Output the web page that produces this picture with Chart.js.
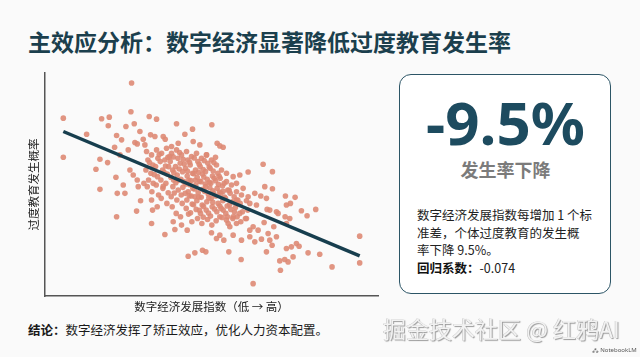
<!DOCTYPE html>
<html>
<head>
<meta charset="utf-8">
<script src="https://cdn.jsdelivr.net/npm/chart.js@4"></script>
<style>
  html, body { margin:0; padding:0; }
  body { width:640px; height:357px; background:#fafafa; position:relative; overflow:hidden;
         font-family:"Noto Sans CJK SC","Noto Sans",sans-serif; }
  .abs { position:absolute; white-space:nowrap; }
  #title { left:28px; top:26px; font-size:23px; line-height:30px; font-weight:700; color:#1b3f4d; letter-spacing:0px; }
  #chartWrap { position:absolute; left:0; top:60px; width:390px; height:260px; }
  #box { position:absolute; left:399px; top:74px; width:210px; height:218px; border:1.5px solid #2c5566;
         border-radius:12px; background:#ffffff; }
  #big { left:399px; width:213px; top:92px; text-align:center; font-family:"Noto Sans","Open Sans",sans-serif;
         font-size:60px; line-height:60px; font-weight:700; color:#1d4b5f; }
  #sub { left:399px; width:213px; top:159px; text-align:center; font-size:18px; line-height:20px; font-weight:700; color:#7b7b7b; }
  #para { left:417px; top:206px; font-size:12.5px; line-height:17.7px; color:#222; }
  #para b { font-weight:700; color:#111; }
  #concl { left:28px; top:320px; font-size:12.5px; line-height:20px; color:#1a1a1a; }
  #concl b { font-weight:700; }
  #wm { left:383px; top:313px; font-size:23px; line-height:30px; color:#f2f2f2;
        text-shadow: 1px 1px 1px #999, -0.5px -0.5px 0 #c0c0c0; }
  #nlm { left:592px; top:346px; font-family:"Noto Sans",sans-serif; font-size:6px; line-height:8px; color:#555; }
</style>
</head>
<body>
<div id="title" class="abs">主效应分析：数字经济显著降低过度教育发生率</div>
<div id="chartWrap"><canvas id="c" width="390" height="260"></canvas></div>
<div id="box"></div>
<div id="big" class="abs">-9.5%</div>
<div id="sub" class="abs">发生率下降</div>
<div id="para" class="abs">数字经济发展指数每增加 1 个标<br>准差，个体过度教育的发生概<br>率下降 9.5%。<br><b>回归系数：</b>-0.074</div>
<div id="concl" class="abs"><b>结论：</b>数字经济发挥了矫正效应，优化人力资本配置。</div>
<div id="wm" class="abs">掘金技术社区 @ 红鸦AI</div>
<div id="nlm" class="abs">⁂ NotebookLM</div>
<script>
// Axis titles
const xAxisTitle = "数字经济发展指数（低 → 高）";
const yAxisTitle = "过度教育发生概率";

// Scatter points: [digital economy index, over-education probability]
const scatterOuter = [
  [33.5,66.0],[13.0,55.5],[13.0,43.8],[20.0,50.7],[24.5,55.3],[26.8,55.8],[26.5,53.2],[33.3,57.4],
  [34.3,53.8],[38.8,56.0],[41.0,55.2],[29.0,50.3],[30.5,49.0],[31.8,53.0],[32.5,46.0],[36.0,51.5],
  [22.8,40.2],[24.0,43.2],[26.3,42.2],[24.0,34.2],[29.0,26.0],[28.8,37.8],[29.2,33.0],[31.5,33.0],
  [31.0,35.5],[35.0,27.7],[36.2,30.8],[28.4,46.8],[30.0,44.5],[34.5,48.2],[35.2,47.8],[37.0,49.2],
  [37.5,47.5],[39.2,50.5],[40.5,50.0],[43.0,50.0],[43.6,49.2],[47.0,53.8],[49.5,50.7],[51.8,52.2],
  [52.0,48.5],[57.6,53.5],[59.2,48.0],[60.0,47.2],[61.0,46.8],[45.5,47.0],[47.5,48.0],[33.0,40.0],
  [34.0,38.5],[35.2,37.0],[37.2,36.0],[35.5,35.0],[39.5,31.0],[39.8,28.0],[39.5,24.0],[41.2,29.0],
  [43.5,20.7],[46.0,24.5],[46.5,22.2],[48.5,23.5],[50.2,22.0],[50.5,14.2],[52.5,15.2],[54.8,16.0],
  [55.8,15.5],[62.7,15.5],[66.4,13.2],[70.0,6.0],[57.5,21.2],[59.0,19.5],[60.0,20.5],[61.2,19.0],
  [64.0,20.5],[66.5,19.0],[69.0,20.0],[70.5,18.5],[72.5,19.3],[74.0,15.5],[75.0,19.0],[75.7,17.5],
  [78.0,12.8],[78.2,10.0],[79.5,13.2],[80.5,12.5],[80.0,16.5],[81.5,17.0],[83.0,18.0],[83.8,17.2],
  [86.5,15.2],[90.0,14.8],[93.7,11.0],[102.0,20.2],[102.0,12.2],[82.0,14.0],[68.5,39.4],[73.0,41.7],
  [75.8,39.5],[73.5,35.0],[75.8,34.4],[79.7,32.2],[82.6,31.8],[80.0,29.5],[81.2,30.0],[84.5,27.8],
  [86.2,26.3],[88.8,28.2],[72.3,32.2],[74.0,31.5],[71.0,29.5],[74.2,28.2],[75.0,28.0],[77.0,27.5],
  [77.5,27.0],[79.6,26.0],[80.0,24.0],[81.0,25.5],[76.2,23.0],[77.0,20.0],[74.5,21.0],[73.3,24.3],
  [64.0,38.0],[66.0,38.5],[62.0,39.0],[65.0,36.0],[67.0,34.5],[70.5,33.0],[68.5,32.0],[69.0,30.0],
  [65.0,31.0],[66.0,27.0],[68.0,25.5],[70.0,23.0],[71.5,22.0],[69.0,22.0],[65.0,24.0],[63.0,23.0],
  [64.0,26.0],[61.0,28.0],[62.0,25.0],[60.0,26.0],[54.0,47.5],[58.7,43.8],[56.0,44.5]
];
const scatterCore = [
  [38.0,45.5],[38.4,43.0],[37.8,40.0],[38.6,37.0],[38.2,35.0],
  [39.5,44.5],[39.9,41.5],[39.3,39.0],[40.0,36.0],[39.6,33.5],
  [41.0,46.0],[41.4,43.5],[40.7,41.0],[41.3,38.0],[40.9,35.5],[41.6,32.5],
  [42.5,45.0],[42.1,42.5],[42.8,40.0],[42.3,37.0],[42.9,34.5],[42.4,31.5],
  [44.0,46.5],[44.4,43.8],[43.7,41.2],[44.2,38.8],[43.8,36.0],[44.5,33.2],[44.1,30.0],
  [45.5,45.0],[45.1,42.5],[45.8,40.0],[45.3,37.8],[45.9,35.0],[45.4,32.0],[45.7,29.0],
  [47.0,46.0],[47.4,43.5],[46.7,41.0],[47.2,38.5],[46.8,36.2],[47.5,34.0],[47.1,31.0],[46.9,27.0],
  [48.5,44.5],[48.1,42.0],[48.8,39.5],[48.3,37.2],[48.9,34.8],[48.4,32.5],[48.7,30.0],[48.2,26.0],
  [50.0,45.5],[50.4,43.0],[49.7,40.5],[50.2,38.2],[49.8,35.8],[50.5,33.5],[50.1,31.0],[49.9,28.5],
  [51.5,44.0],[51.1,41.5],[51.8,39.0],[51.3,36.8],[51.9,34.5],[51.4,32.2],[51.7,29.8],[51.2,27.2],[51.6,24.5],
  [53.0,45.0],[53.4,42.5],[52.7,40.0],[53.2,37.8],[52.8,35.5],[53.5,33.2],[53.1,30.8],[52.9,28.2],[53.3,25.5],
  [54.5,43.5],[54.1,41.0],[54.8,38.8],[54.3,36.5],[54.9,34.2],[54.4,31.8],[54.7,29.5],[54.2,27.0],[54.6,24.0],
  [56.0,44.5],[56.4,42.0],[55.7,39.5],[56.2,37.2],[55.8,35.0],[56.5,32.8],[56.1,30.5],[55.9,28.0],[56.3,25.2],
  [57.5,43.0],[57.1,40.5],[57.8,38.2],[57.3,36.0],[57.9,33.8],[57.4,31.5],[57.7,29.0],[57.2,26.2],[57.6,23.5],
  [59.0,41.5],[59.4,39.0],[58.7,36.8],[59.2,34.5],[58.8,32.2],[59.5,30.0],[59.1,27.5],[58.9,24.8],
  [60.5,40.0],[60.1,37.5],[60.8,35.2],[60.3,33.0],[60.9,30.8],[60.4,28.5],[60.7,25.8],
  [62.0,36.5],[62.4,34.0],[61.7,31.5],[62.2,29.2],[61.8,27.0],[62.5,24.0],
  [63.5,35.5],[63.1,33.0],[63.8,30.5],[63.3,28.2],[63.9,25.5],
  [65.0,33.5],[65.4,31.0],[64.7,28.8],[65.2,26.0],
  [66.5,32.5],[66.1,30.0],[66.8,27.5],[66.3,24.5],
  [68.0,30.8],[68.4,28.0],[67.7,25.5],
  [38.9,42.2],[40.3,38.6],[41.8,44.6],[43.2,39.4],[43.0,35.1],[44.9,44.0],[46.2,39.2],[46.3,33.1],
  [47.9,45.2],[47.8,40.3],[49.2,36.5],[49.3,41.8],[50.9,42.3],[50.7,37.0],[50.8,32.3],[52.3,43.6],
  [52.2,38.9],[52.4,34.3],[52.1,29.6],[53.8,41.7],[53.9,36.6],[53.7,31.9],[55.3,42.8],[55.2,37.9],
  [55.4,33.6],[55.1,29.1],[56.8,40.9],[56.9,36.3],[56.7,31.6],[58.2,42.2],[58.3,37.5],[58.1,33.0],
  [58.4,28.3],[59.8,38.1],[59.9,33.4],[60.0,29.2],[61.3,36.0],[61.4,31.9],[62.8,33.9],[62.9,29.6],
  [64.3,32.0],[64.4,27.4],
  [44.6,41.0],[46.0,43.9],[49.0,43.2],[50.3,39.6],[51.0,35.6],[52.6,36.9],[53.6,39.3],[55.0,40.1],
  [55.6,35.8],[57.0,34.7],[58.0,39.7],[59.6,35.7],[57.9,30.3],[56.6,27.1],[53.9,27.9],[52.5,32.0],
  [49.6,33.0],[47.6,36.9],[46.1,37.0],[43.5,43.0],[50.6,26.8],[55.0,25.9],[61.0,33.6],[62.3,26.0]
];
// Fitted regression line end points
const trendX = [13.0, 102.0];
const trendY = [51.5, 14.3];

const toXY = arr => arr.map(p => ({ x: p[0], y: p[1] }));
const allPoints = toXY(scatterOuter.concat(scatterCore));
const trendPoints = trendX.map((x, i) => ({ x: x, y: trendY[i] }));

new Chart(document.getElementById('c'), {
  type: 'scatter',
  data: {
    datasets: [
      { type: 'line', data: trendPoints, borderColor: '#173e4e', borderWidth: 3.5,
        pointRadius: 0, fill: false, order: 0, borderCapStyle: 'butt' },
      { data: allPoints, backgroundColor: 'rgba(222,138,116,0.9)', borderWidth: 0,
        pointRadius: 2.8, pointHoverRadius: 2.8, order: 1 }
    ]
  },
  options: {
    responsive: false,
    devicePixelRatio: 1,
    animation: false,
    layout: { padding: { left: 23.2, right: 12, top: 13, bottom: 2.2 } },
    plugins: { legend: { display: false }, tooltip: { enabled: false } },
    scales: {
      x: {
        type: 'linear', min: 7.5, max: 107.5,
        ticks: { display: false },
        grid: { display: false, drawTicks: false },
        border: { display: true, color: '#555', width: 1.5 },
        title: { display: true, text: xAxisTitle, color: '#222',
                 font: { family: '"Noto Sans CJK SC"', size: 11.5 }, padding: { top: 4, bottom: 4 } }
      },
      y: {
        type: 'linear', min: 2.3, max: 69,
        ticks: { display: false },
        grid: { display: false, drawTicks: false },
        border: { display: true, color: '#555', width: 1.5 },
        title: { display: true, text: yAxisTitle, color: '#222',
                 font: { family: '"Noto Sans CJK SC"', size: 11.5 }, padding: { top: 4, bottom: 4 } }
      }
    }
  }
});
</script>
</body>
</html>
